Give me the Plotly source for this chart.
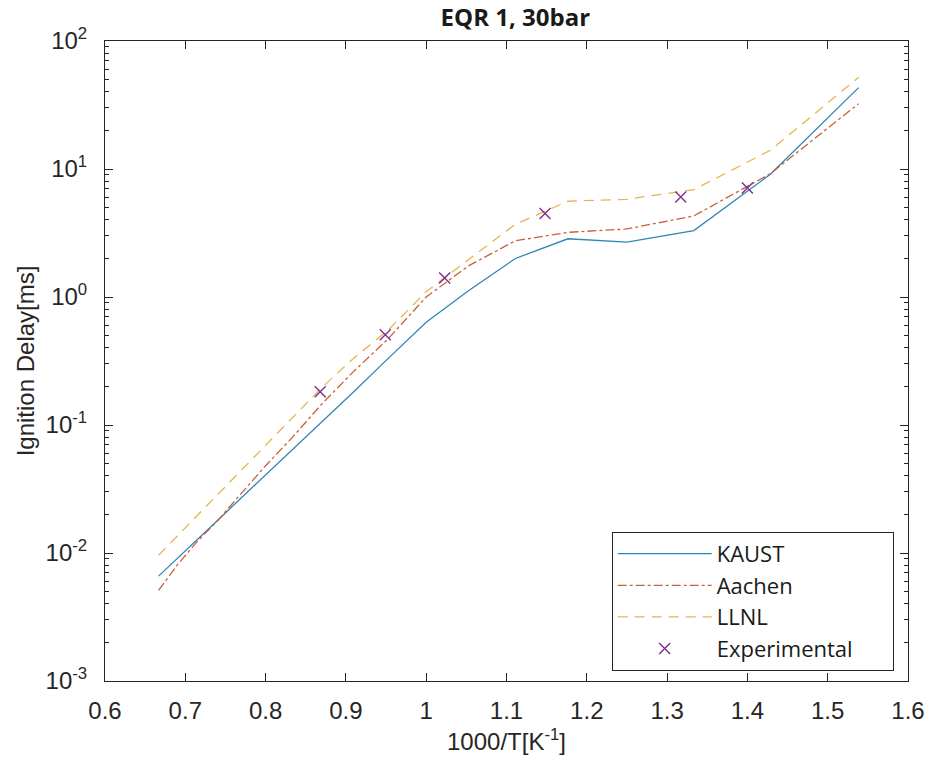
import plotly.graph_objects as go

# ---- data ----
x_sim = [0.6667, 0.6897, 0.7143, 0.7407, 0.7692, 0.8000, 0.8333, 0.8696, 0.9091,
         0.9524, 1.0000, 1.0526, 1.1111, 1.1765, 1.2500, 1.3333, 1.4286, 1.5385]
kaust = [0.0066, 0.0090, 0.0126, 0.0181, 0.0268, 0.0408, 0.0644, 0.104, 0.180,
         0.330, 0.634, 1.12, 2.0, 2.85, 2.68, 3.3, 9.1, 43.2]
aachen = [0.0051, 0.0080, 0.0122, 0.0180, 0.0290, 0.048, 0.080, 0.145, 0.26,
          0.47, 1.0, 1.75, 2.75, 3.2, 3.4, 4.3, 9.2, 32.4]
llnl = [0.0096, 0.0135, 0.0195, 0.0285, 0.044, 0.069, 0.113, 0.195, 0.33,
        0.55, 1.1, 1.95, 3.7, 5.6, 5.8, 6.9, 14.0, 52.0]
x_exp = [0.868, 0.949, 1.023, 1.148, 1.317, 1.400]
y_exp = [0.182, 0.508, 1.41, 4.49, 6.04, 7.1]

x_ticks = [0.6, 0.7, 0.8, 0.9, 1.0, 1.1, 1.2, 1.3, 1.4, 1.5, 1.6]
x_ticktext = ["0.6", "0.7", "0.8", "0.9", "1", "1.1", "1.2", "1.3", "1.4", "1.5", "1.6"]
y_ticks = [1e-3, 1e-2, 1e-1, 1e0, 1e1, 1e2]
y_ticktext = ["10<sup>-3</sup>", "10<sup>-2</sup>", "10<sup>-1</sup>",
              "10<sup>0</sup>", "10<sup>1</sup>", "10<sup>2</sup>"]

minor_y = []
for e in range(-3, 2):
    for m in range(2, 10):
        minor_y.append(m * 10 ** e)

fig = go.Figure()
fig.add_trace(go.Scatter(x=x_sim, y=kaust, mode="lines", name="KAUST",
                         line=dict(color="#2f86b4", width=1.3)))
fig.add_trace(go.Scatter(x=x_sim, y=aachen, mode="lines", name="Aachen",
                         line=dict(color="#c9603a", width=1.3, dash="dashdot")))
fig.add_trace(go.Scatter(x=x_sim, y=llnl, mode="lines", name="LLNL",
                         line=dict(color="#e3b64a", width=1.3, dash="10px,7px")))
fig.add_trace(go.Scatter(x=x_exp, y=y_exp, mode="markers",
                         name="Experimental\u00a0\u00a0\u00a0\u00a0\u00a0\u00a0",
                         marker=dict(symbol="x-thin", size=11, color="#7E2F8E",
                                     line=dict(width=1.4, color="#7E2F8E"))))

axis_font = dict(family="Liberation Sans", size=24, color="#262626")

fig.update_layout(
    width=937, height=769,
    margin=dict(l=105, r=20, t=41, b=88),
    plot_bgcolor="white", paper_bgcolor="white",
    title=dict(text="<b>EQR 1, 30bar</b>", x=0.55, xanchor="center", y=0.977,
               yanchor="middle", font=dict(family="Open Sans", size=24, color="#1a1a1a")),
    showlegend=True,
    legend=dict(x=0.631, y=0.233, xanchor="left", yanchor="top",
                bgcolor="white", bordercolor="#262626", borderwidth=1,
                font=dict(family="Open Sans", size=22, color="#1a1a1a"),
                itemwidth=94, tracegroupgap=0),
)
fig.update_xaxes(
    range=[0.6, 1.6], tickmode="array", tickvals=x_ticks, ticktext=x_ticktext,
    showline=True, linecolor="#262626", linewidth=1, mirror="ticks",
    ticks="inside", ticklen=8, tickcolor="#262626", showgrid=False, zeroline=False,
    tickfont=axis_font, ticklabelstandoff=8,
    title=dict(text="1000/T[K<sup>-1</sup>]", font=axis_font, standoff=10),
)
fig.update_yaxes(
    type="log", range=[-3, 2], tickmode="array", tickvals=y_ticks, ticktext=y_ticktext,
    showline=True, linecolor="#262626", linewidth=1, mirror="ticks",
    ticks="inside", ticklen=8, tickcolor="#262626", showgrid=False, zeroline=False,
    tickfont=axis_font, ticklabelstandoff=12,
    minor=dict(tickmode="array", tickvals=minor_y, ticks="inside", ticklen=4,
               tickcolor="#262626", showgrid=False),
    title=dict(text="Ignition Delay[ms]", font=axis_font, standoff=4),
)

fig.write_html("out.html")
